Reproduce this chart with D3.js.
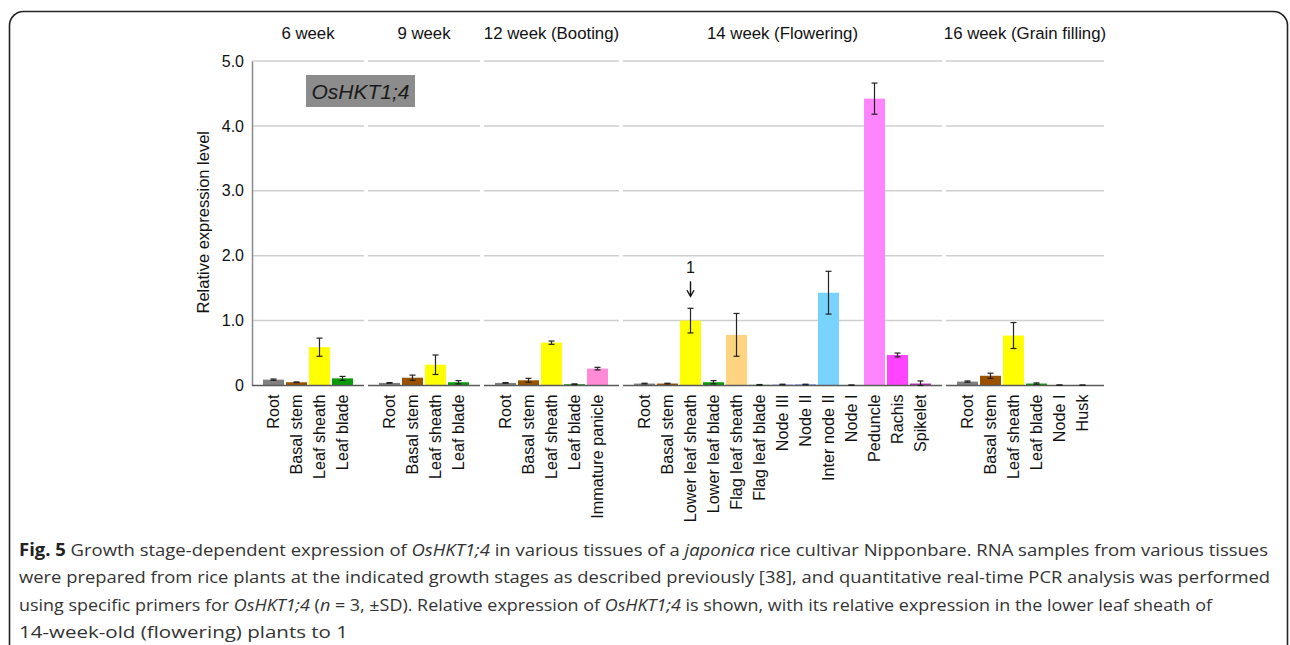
<!DOCTYPE html>
<html>
<head>
<meta charset="utf-8">
<script src="https://cdn.jsdelivr.net/npm/d3@7"></script>
<style>
  html, body { margin: 0; padding: 0; background: #fff; }
  svg { display: block; }
</style>
</head>
<body>
<svg id="chart" width="1290" height="645"></svg>
<script>
// ---- data: relative expression of OsHKT1;4 (mean, SD) by growth stage ----
const stages = ["6 week", "9 week", "12 week (Booting)", "14 week (Flowering)", "16 week (Grain filling)"];

const week6Tissues = ["Root", "Basal stem", "Leaf sheath", "Leaf blade"];
const week6Values  = [0.09, 0.05, 0.59, 0.11];
const week6SD      = [0.01, 0.005, 0.14, 0.03];

const week9Tissues = ["Root", "Basal stem", "Leaf sheath", "Leaf blade"];
const week9Values  = [0.04, 0.12, 0.32, 0.05];
const week9SD      = [0.005, 0.04, 0.15, 0.025];

const week12Tissues = ["Root", "Basal stem", "Leaf sheath", "Leaf blade", "Immature panicle"];
const week12Values  = [0.04, 0.08, 0.66, 0.02, 0.26];
const week12SD      = [0.005, 0.03, 0.025, 0.005, 0.02];

const week14Tissues = ["Root", "Basal stem", "Lower leaf sheath", "Lower leaf blade", "Flag leaf sheath",
  "Flag leaf blade", "Node III", "Node II", "Inter node II", "Node I", "Peduncle", "Rachis", "Spikelet"];
const week14Values  = [0.03, 0.03, 1.0, 0.05, 0.78, 0.01, 0.015, 0.015, 1.43, 0.005, 4.42, 0.47, 0.03];
const week14SD      = [0.005, 0.005, 0.19, 0.025, 0.33, 0.005, 0.005, 0.005, 0.33, 0.003, 0.24, 0.03, 0.04];

const week16Tissues = ["Root", "Basal stem", "Leaf sheath", "Leaf blade", "Node I", "Husk"];
const week16Values  = [0.06, 0.15, 0.77, 0.03, 0.006, 0.005];
const week16SD      = [0.01, 0.04, 0.2, 0.01, 0.003, 0.003];

const yTicks = [0, 1, 2, 3, 4, 5];
const yTickLabels = ["0", "1.0", "2.0", "3.0", "4.0", "5.0"];

// reference sample marked with its value
const markedStage = 3, markedTissue = "Lower leaf sheath", markedLabel = "1";

// ---- styling ----
const tissueColor = {
  "Root": "#808080", "Basal stem": "#9a5200", "Leaf sheath": "#ffff00", "Leaf blade": "#0a9a0a",
  "Immature panicle": "#ff8ad6", "Lower leaf sheath": "#ffff00", "Lower leaf blade": "#0a9a0a",
  "Flag leaf sheath": "#ffd480", "Flag leaf blade": "#1aa51a", "Node III": "#9a9aff", "Node II": "#3a66ff",
  "Inter node II": "#78d4ff", "Node I": "#5a6aa0", "Peduncle": "#ff85ff", "Rachis": "#ff44ff",
  "Spikelet": "#b02cb0", "Husk": "#9a8a7a"
};

const groups = [
  { stage: stages[0], tissues: week6Tissues,  values: week6Values,  sd: week6SD },
  { stage: stages[1], tissues: week9Tissues,  values: week9Values,  sd: week9SD },
  { stage: stages[2], tissues: week12Tissues, values: week12Values, sd: week12SD },
  { stage: stages[3], tissues: week14Tissues, values: week14Values, sd: week14SD },
  { stage: stages[4], tissues: week16Tissues, values: week16Values, sd: week16SD }
];

const svg = d3.select("#chart");
const FONT = "Arial, 'Liberation Sans', Helvetica, sans-serif";

// outer frame (rounded, open at the bottom edge of the view)
svg.append("rect")
  .attr("x", 9.5).attr("y", 11.5).attr("width", 1278).attr("height", 700)
  .attr("rx", 14).attr("fill", "none").attr("stroke", "#222").attr("stroke-width", 1.6);

// plot geometry
const plotLeft = 252, plotTop = 61, plotBottom = 385.5;
const slot = 23, groupPad = 10, groupGap = 4;

const y = d3.scaleLinear().domain([0, 5]).range([plotBottom, plotTop]);

// group extents along x
let cursor = plotLeft;
groups.forEach(g => {
  g.x0 = cursor;
  g.x1 = cursor + g.tissues.length * slot + 2 * groupPad;
  cursor = g.x1 + groupGap;
  g.xBand = d3.scaleBand()
    .domain(d3.range(g.tissues.length))
    .range([g.x0 + groupPad, g.x1 - groupPad])
    .paddingInner(0.087).paddingOuter(0.0435);
});

// gridlines, segmented per group
const grid = svg.append("g");
groups.forEach(g => {
  grid.selectAll(null).data(yTicks.filter(t => t > 0)).join("line")
    .attr("x1", g.x0).attr("x2", g.x1)
    .attr("y1", d => y(d)).attr("y2", d => y(d))
    .attr("stroke", "#cfcfcf").attr("stroke-width", 1.5);
});

// y axis
const yAxis = d3.axisLeft(y).tickValues(yTicks).tickSize(0).tickPadding(8)
  .tickFormat((d, i) => yTickLabels[i]);
const yG = svg.append("g").attr("transform", `translate(${plotLeft},0)`).call(yAxis);
yG.select(".domain").attr("stroke", "#8a8a8a").attr("stroke-width", 1.5);
yG.selectAll("text").attr("font-family", FONT).attr("font-size", 16).attr("fill", "#111");

svg.append("text")
  .attr("transform", `translate(209,${(plotTop + plotBottom) / 2 - 1}) rotate(-90)`)
  .attr("text-anchor", "middle")
  .attr("font-family", FONT).attr("font-size", 16.5).attr("fill", "#111")
  .text("Relative expression level");

// bars, error bars, labels per group
groups.forEach((g, gi) => {
  const gg = svg.append("g");
  const data = g.tissues.map((t, i) => ({ t, i, v: g.values[i], s: g.sd[i] }));

  gg.selectAll("rect").data(data).join("rect")
    .attr("x", d => g.xBand(d.i))
    .attr("width", g.xBand.bandwidth())
    .attr("y", d => y(d.v))
    .attr("height", d => y(0) - y(d.v))
    .attr("fill", d => tissueColor[d.t]);

  // baseline
  gg.append("line")
    .attr("x1", g.x0).attr("x2", g.x1).attr("y1", y(0)).attr("y2", y(0))
    .attr("stroke", "#5a5a5a").attr("stroke-width", 1.5);

  const cx = d => g.xBand(d.i) + g.xBand.bandwidth() / 2;
  const eb = gg.selectAll("g.eb").data(data).join("g").attr("class", "eb");
  eb.append("line")
    .attr("x1", cx).attr("x2", cx)
    .attr("y1", d => y(d.v + d.s)).attr("y2", d => y(Math.max(0, d.v - d.s)))
    .attr("stroke", "#222").attr("stroke-width", 1.2);
  [d => d.v + d.s, d => Math.max(0, d.v - d.s)].forEach(f => {
    eb.append("line")
      .attr("x1", d => cx(d) - 3).attr("x2", d => cx(d) + 3)
      .attr("y1", d => y(f(d))).attr("y2", d => y(f(d)))
      .attr("stroke", "#222").attr("stroke-width", 1.2);
  });

  // rotated tissue labels
  gg.selectAll("text.tl").data(data).join("text").attr("class", "tl")
    .attr("transform", d => `translate(${cx(d)},${plotBottom + 9}) rotate(-90)`)
    .attr("text-anchor", "end").attr("dy", "0.35em")
    .attr("font-family", FONT).attr("font-size", 16.2).attr("fill", "#111")
    .text(d => d.t);

  // stage header
  svg.append("text")
    .attr("x", (g.x0 + g.x1) / 2).attr("y", 38.5)
    .attr("text-anchor", "middle")
    .attr("font-family", FONT).attr("font-size", 16.8).attr("fill", "#111")
    .text(g.stage);

  // reference marker
  if (gi === markedStage) {
    const d = data.find(e => e.t === markedTissue);
    const x = cx(d);
    const top = y(d.v + d.s);
    svg.append("text").attr("x", x).attr("y", top - 35)
      .attr("text-anchor", "middle").attr("font-family", FONT).attr("font-size", 16).attr("fill", "#111")
      .text(markedLabel);
    svg.append("line").attr("x1", x).attr("x2", x).attr("y1", top - 27).attr("y2", top - 13)
      .attr("stroke", "#111").attr("stroke-width", 1.4);
    svg.append("path")
      .attr("d", `M${x - 3.5},${top - 18} L${x},${top - 12} L${x + 3.5},${top - 18}`)
      .attr("fill", "none").attr("stroke", "#111").attr("stroke-width", 1.4);
  }
});

// gene name tag
const tag = svg.append("g");
tag.append("rect").attr("x", 306).attr("y", 75).attr("width", 109).attr("height", 32).attr("fill", "#8c8c8c");
tag.append("text").attr("x", 360.5).attr("y", 98.5).attr("text-anchor", "middle")
  .attr("font-family", FONT).attr("font-size", 21).attr("font-style", "italic").attr("fill", "#1a1a1a")
  .text("OsHKT1;4");

// caption
const capFont = "'Open Sans', 'Noto Sans', sans-serif";
const captionLines = [
  { w: 1249, parts: [["Fig. 5", "b"], [" Growth stage-dependent expression of ", ""], ["OsHKT1;4", "i"],
      [" in various tissues of a ", ""], ["japonica", "i"], [" rice cultivar Nipponbare. RNA samples from various tissues", ""]] },
  { w: 1251, parts: [["were prepared from rice plants at the indicated growth stages as described previously [38], and quantitative real-time PCR analysis was performed", ""]] },
  { w: 1193, parts: [["using specific primers for ", ""], ["OsHKT1;4", "i"], [" (", ""], ["n", "i"], [" = 3, \u00b1SD). Relative expression of ", ""],
      ["OsHKT1;4", "i"], [" is shown, with its relative expression in the lower leaf sheath of", ""]] },
  { w: 329, parts: [["14-week-old (flowering) plants to 1", ""]] }
];
captionLines.forEach((ln, i) => {
  const t = svg.append("text")
    .attr("x", 19).attr("y", 556 + i * 27.3)
    .attr("font-family", capFont).attr("font-size", 17.2).attr("fill", "#333");
  ln.parts.forEach(([s, st]) => {
    const sp = t.append("tspan").text(s);
    if (st === "b") sp.attr("font-weight", "bold").attr("fill", "#222");
    if (st === "i") sp.attr("font-style", "italic");
  });
  if (ln.w) t.attr("textLength", ln.w).attr("lengthAdjust", "spacingAndGlyphs");
});
</script>
</body>
</html>
